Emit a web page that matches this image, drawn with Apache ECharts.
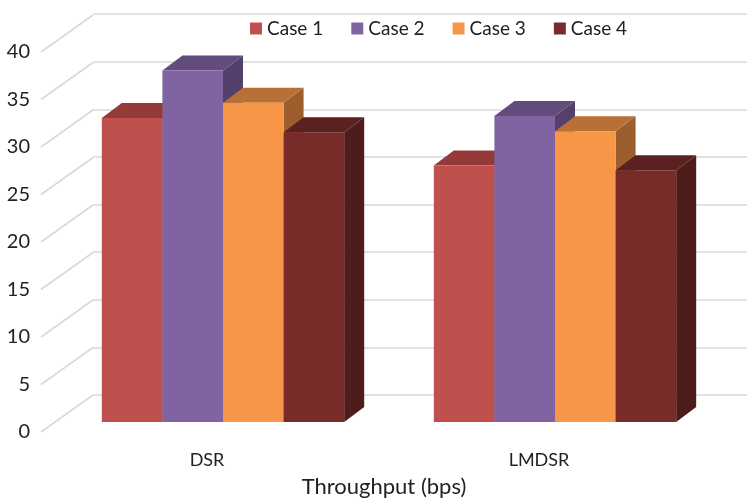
<!DOCTYPE html>
<html>
<head>
<meta charset="utf-8">
<script src="https://cdn.jsdelivr.net/npm/echarts@6/dist/echarts.min.js"></script>
<style>
  html, body { margin: 0; padding: 0; background: #fff; }
  #chart { width: 747px; height: 498px; }
</style>
</head>
<body>
<div id="chart"></div>
<script>
// Throughput per routing scheme, four test cases
const categories = ['DSR', 'LMDSR'];
const seriesNames = ['Case 1', 'Case 2', 'Case 3', 'Case 4'];
const case1 = [32, 27];
const case2 = [37, 32.2];
const case3 = [33.6, 30.6];
const case4 = [30.5, 26.5];
const yTicks = [0, 5, 10, 15, 20, 25, 30, 35, 40];
const axisTitle = 'Throughput (bps)';

const seriesValues = [case1, case2, case3, case4];

// face colours: front, top, side
const palette = [
  ['#C0504D', '#943A38', '#7E3230'],
  ['#8064A2', '#624C7C', '#53406B'],
  ['#F79646', '#B97035', '#9C5E2C'],
  ['#772C2A', '#5B2120', '#4E1C1B']
];

const FONT = 'Lato, "Noto Sans", sans-serif';
const TEXT = '#222';
const GRID_LINE = '#d9d9d9';
const GROUP_FRAC = 0.73;       // share of a category band taken by the bar cluster
const BAR_DEPTH = [20, -15];   // oblique offset of a bar's back face
const WALL_DEPTH = [52, -37];  // front edge of the floor to the back wall

const chart = echarts.init(document.getElementById('chart'));

function barRenderer(si) {
  const [front, top, side] = palette[si];
  return function (params, api) {
    const cat = api.value(0);
    const v = api.value(1);
    const base = api.coord([cat, 0]);
    const head = api.coord([cat, v]);
    const band = api.size([1, 0])[0];
    const bw = band * GROUP_FRAC / seriesNames.length;
    const x0 = base[0] - band * GROUP_FRAC / 2 + si * bw;
    const x1 = x0 + bw;
    const yb = base[1];
    const yt = head[1];
    const dx = BAR_DEPTH[0], dy = BAR_DEPTH[1];
    return {
      type: 'group',
      children: [
        { type: 'polygon',
          shape: { points: [[x1, yb], [x1, yt], [x1 + dx, yt + dy], [x1 + dx, yb + dy]] },
          style: { fill: side } },
        { type: 'polygon',
          shape: { points: [[x0, yt], [x1, yt], [x1 + dx, yt + dy], [x0 + dx, yt + dy]] },
          style: { fill: top } },
        { type: 'rect',
          shape: { x: x0, y: yt, width: bw, height: yb - yt },
          style: { fill: front } }
      ]
    };
  };
}

// side-wall lines joining each front tick to its back-wall gridline
function wallRenderer(params, api) {
  const p = api.coord([0, api.value(0)]);
  const x = params.coordSys.x;
  return {
    type: 'line',
    shape: { x1: x, y1: p[1], x2: x + WALL_DEPTH[0], y2: p[1] + WALL_DEPTH[1] },
    style: { stroke: GRID_LINE, lineWidth: 1.6 }
  };
}

const barSeries = seriesNames.map((name, si) => ({
  name: name,
  type: 'custom',
  xAxisIndex: 0,
  yAxisIndex: 0,
  renderItem: barRenderer(si),
  itemStyle: { color: palette[si][0] },
  encode: { x: 0, y: 1 },
  data: seriesValues[si].map((v, ci) => [ci, v]),
  z: 3
}));

const option = {
  backgroundColor: '#fff',
  animation: false,
  legend: {
    data: seriesNames,
    left: 245,
    top: 14,
    icon: 'rect',
    itemWidth: 12,
    itemHeight: 12,
    itemGap: 28,
    textStyle: { fontFamily: FONT, fontSize: 19, color: TEXT }
  },
  grid: [
    // plane of the bars' front faces
    { left: 57, right: 26, top: 42, bottom: 76, outerBoundsMode: 'none' },
    // front edge of the floor: tick labels and category labels
    { left: 41, right: 42, top: 52, bottom: 66, outerBoundsMode: 'none' },
    // back wall
    { left: 93, right: 0, top: 14, bottom: 103, outerBoundsMode: 'none' }
  ],
  xAxis: [
    { gridIndex: 0, type: 'category', data: categories, show: false },
    { gridIndex: 1, type: 'category', data: categories,
      axisLine: { show: false }, axisTick: { show: false }, splitLine: { show: false },
      axisLabel: { margin: 19, fontFamily: FONT, fontSize: 18, color: TEXT },
      name: axisTitle, nameLocation: 'middle', nameGap: 44,
      nameTextStyle: { fontFamily: FONT, fontSize: 22, color: TEXT, padding: [0, 0, 0, 22] } },
    { gridIndex: 2, type: 'category', data: categories, show: false }
  ],
  yAxis: [
    { gridIndex: 0, type: 'value', min: 0, max: 40, interval: 5, show: false },
    { gridIndex: 1, type: 'value', min: 0, max: 40, interval: 5,
      axisLine: { show: false }, axisTick: { show: false }, splitLine: { show: false },
      axisLabel: { margin: 11, fontFamily: FONT, fontSize: 20, color: TEXT } },
    { gridIndex: 2, type: 'value', min: 0, max: 40, interval: 5,
      axisLine: { show: false }, axisTick: { show: false }, axisLabel: { show: false },
      splitLine: { show: true, lineStyle: { color: GRID_LINE, width: 1.6 } } }
  ],
  series: [
    { type: 'custom', xAxisIndex: 1, yAxisIndex: 1, renderItem: wallRenderer,
      encode: { y: 0 }, data: yTicks.map(t => [t]), silent: true, z: 1 },
    ...barSeries
  ]
};

chart.setOption(option);
</script>
</body>
</html>
